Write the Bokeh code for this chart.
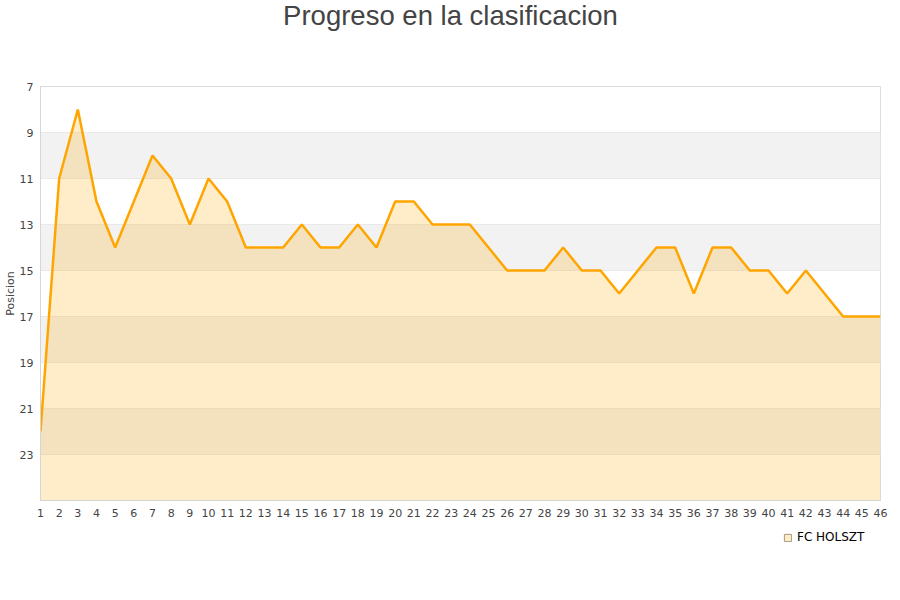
from bokeh.plotting import figure
from bokeh.layouts import column
from bokeh.models import Range1d, FixedTicker, BoxAnnotation, Legend, LegendItem
from bokeh.core.properties import value
from bokeh.embed import file_html
from bokeh.resources import INLINE

# ---- data ----
jornadas = list(range(1, 47))
posicion = [22, 11, 8, 12, 14, 12, 10, 11, 13, 11,
            12, 14, 14, 14, 13, 14, 14, 13, 14, 12,
            12, 13, 13, 13, 14, 15, 15, 15, 14, 15,
            15, 16, 15, 14, 14, 16, 14, 14, 15, 15,
            16, 15, 16, 17, 17, 17]
y_ticks = [7, 9, 11, 13, 15, 17, 19, 21, 23]
y_top = 7
y_bottom = 25
band_pairs = [(9, 11), (13, 15), (17, 19), (21, 23)]
team = "FC HOLSZT"
title_text = "Progreso en la clasificacion"

TICK_FONT = "DejaVu Sans"
W = 892
HEADER_H = 80
NAN = float("nan")

# ---- header with the title (frame aligned with the chart frame: 40..880 px) ----
hdr = figure(width=W, height=HEADER_H, output_backend="svg", toolbar_location=None,
             x_range=Range1d(40, 880), y_range=Range1d(HEADER_H, 0),
             x_axis_location=None, y_axis_location=None,
             min_border=0, outline_line_color=None)
hdr.grid.visible = False
hdr.text(x=[450], y=[15], text=[title_text], text_align="center",
         text_baseline="middle", text_font=value("Liberation Sans"),
         text_font_size="27.5px", text_color="#444444")

# ---- main chart ----
p = figure(width=W, height=448, output_backend="svg", toolbar_location=None,
           x_range=Range1d(jornadas[0], jornadas[-1]),
           y_range=Range1d(y_bottom, y_top),
           min_border_left=40, min_border_right=12,
           min_border_top=6, min_border_bottom=28)

p.background_fill_color = "white"
p.border_fill_color = "white"
p.outline_line_color = "#dddddd"

for a, b in band_pairs:
    p.add_layout(BoxAnnotation(bottom=a, top=b, fill_color="#f2f2f2",
                               fill_alpha=1.0, line_color=None, level="underlay"))

p.xgrid.visible = False
p.ygrid.ticker = FixedTicker(ticks=y_ticks)
p.ygrid.grid_line_color = "#e0e0e0"

p.varea(x=jornadas, y1=posicion, y2=[y_bottom] * len(jornadas),
        fill_color="#ffa500", fill_alpha=0.21)
p.line(jornadas, posicion, line_color="#ffa500", line_width=2.5)

p.xaxis.ticker = FixedTicker(ticks=jornadas)
p.yaxis.ticker = FixedTicker(ticks=y_ticks)
for ax in (p.xaxis, p.yaxis):
    ax.major_label_text_font = TICK_FONT
    ax.major_label_text_font_size = "11px"
    ax.major_label_text_color = "#444444"
    ax.major_tick_line_color = None
    ax.minor_tick_line_color = None
    ax.major_tick_out = 0
    ax.major_tick_in = 0
    ax.minor_tick_out = 0
    ax.minor_tick_in = 0
    ax.axis_line_color = "#d6d6d6"
p.xaxis.major_label_standoff = 8
p.yaxis.major_label_standoff = 7

p.yaxis.axis_label = "Posicion"
p.yaxis.axis_label_text_font = TICK_FONT
p.yaxis.axis_label_text_font_size = "11px"
p.yaxis.axis_label_text_font_style = "normal"
p.yaxis.axis_label_text_color = "#444444"
p.yaxis.axis_label_standoff = 0

# ---- legend strip below the chart (frame aligned 40..880 px) ----
lg = figure(width=W, height=56, output_backend="svg", toolbar_location=None,
            x_range=Range1d(0, 1), y_range=Range1d(0, 1),
            x_axis_location=None, y_axis_location=None,
            min_border=0, outline_line_color=None)
lg.grid.visible = False
# legend proxy: one NaN entry, so nothing is drawn in the strip itself
swatch = lg.quad(left=[NAN], right=[NAN], top=[NAN], bottom=[NAN],
                 fill_color="#fdebc8", line_color="#a89a80", line_width=1)
legend = Legend(items=[LegendItem(label=team, renderers=[swatch])],
                location=(743, 40), orientation="horizontal",
                border_line_color=None, background_fill_alpha=0,
                label_text_font=TICK_FONT, label_text_font_size="12px",
                label_text_color="#000000", glyph_width=9, glyph_height=9,
                label_standoff=5, margin=0, padding=0, spacing=0)
lg.add_layout(legend, "center")

layout = column(hdr, p, lg, spacing=0)
open("out.html", "w").write(file_html(layout, INLINE))
